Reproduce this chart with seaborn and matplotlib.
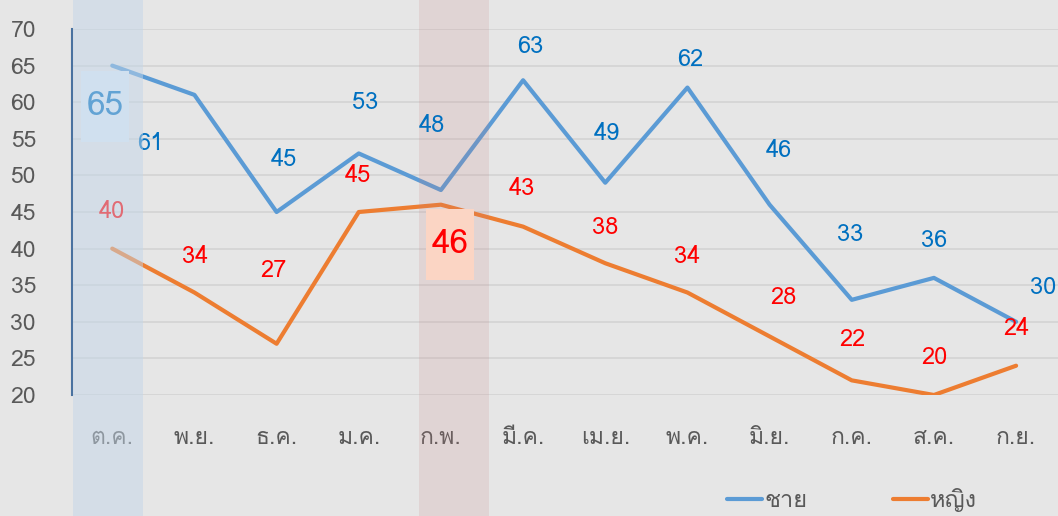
import numpy as np
import pandas as pd
import matplotlib
matplotlib.use("Agg")
import matplotlib.pyplot as plt
from matplotlib import font_manager
from matplotlib.patches import Rectangle
from matplotlib.text import Text
from matplotlib.offsetbox import DrawingArea, AnnotationBbox
import seaborn as sns

# data
months = ["ต.ค.", "พ.ย.", "ธ.ค.", "ม.ค.", "ก.พ.", "มี.ค.", "เม.ย.", "พ.ค.", "มิ.ย.", "ก.ค.", "ส.ค.", "ก.ย."]
male = [65, 61, 45, 53, 48, 63, 49, 62, 46, 33, 36, 30]
female = [40, 34, 27, 45, 46, 43, 38, 34, 28, 22, 20, 24]
series_names = ["ชาย", "หญิง"]
y_ticks = [20, 25, 30, 35, 40, 45, 50, 55, 60, 65, 70]

# label offsets in pixels (dx, dy with dy down)
male_off = [(-7, 41), (-44, 49), (7, -52), (6, -51), (-9, -65), (7, -34),
            (2, -49), (3, -28), (9, -54), (-2, -65), (0, -37), (27, -34)]
female_off = [(0, -37), (1, -36), (-3, -73), (-1, -36), (9, 40), (-1, -38),
              (0, -36), (0, -36), (14, -39), (1, -41), (0, -37), (0, -37)]
big_male = 0     # index with highlighted box
big_female = 4

BLUE = "#5b9bd5"
ORANGE = "#ed7d31"
BG = "#e6e6e6"
GRAY = "#595959"


def thai_font():
    # pick any installed font that has Thai glyphs
    from fontTools.ttLib import TTFont
    for f in font_manager.fontManager.ttflist:
        try:
            tt = TTFont(f.fname, fontNumber=0, lazy=True)
            cmap = tt.getBestCmap()
            if cmap and 0x0E15 in cmap and 0x0E0D in cmap:
                return f.name
        except Exception:
            continue
    return None


sns.set_theme(style="white")
fam = thai_font()
plt.rcParams["font.family"] = ([fam] if fam else []) + ["DejaVu Sans"]

df = pd.DataFrame({
    "month": months * 2,
    "value": male + female,
    "sex": [series_names[0]] * len(months) + [series_names[1]] * len(months),
})

fig = plt.figure(figsize=(10.58, 5.16), dpi=100, facecolor=BG)
ax = fig.add_axes([72 / 1058, 1 - 395 / 516, 1 - 72 / 1058, (395 - 29) / 516])
ax.set_facecolor(BG)

sns.lineplot(data=df, x="month", y="value", hue="sex", palette=[BLUE, ORANGE],
             linewidth=3, sort=False, legend=False, ax=ax, zorder=2)

ax.set_xlim(-0.49, 11.51)
ax.set_ylim(20, 70)
ax.set_yticks(y_ticks)
ax.set_xlabel("")
ax.set_ylabel("")
ax.yaxis.grid(True, color="#d5d5d5", linewidth=1.3)
ax.set_axisbelow(True)
for s in ["top", "right", "bottom"]:
    ax.spines[s].set_visible(False)
ax.spines["left"].set_color("#4a72a0")
ax.spines["left"].set_linewidth(1.5)
ax.tick_params(axis="y", length=0, pad=26, labelsize=16.5, labelcolor=GRAY)
ax.tick_params(axis="x", length=0, pad=24, labelsize=16.5, labelcolor=GRAY)

# highlight bands
ax.axvspan(-0.48, 0.38, ymin=-0.34, ymax=1.08, color="#c4d6e8", alpha=0.5,
           lw=0, clip_on=False, zorder=5)
ax.axvspan(3.73, 4.59, ymin=-0.34, ymax=1.08, color="#c88080", alpha=0.17,
           lw=0, clip_on=False, zorder=2.5)


def big_label(i, v, off, fc, tc):
    w, h = 48 * 0.72, 71 * 0.72
    da = DrawingArea(w, h, 0, 0)
    da.add_artist(Rectangle((0, 0), w, h, fc=fc, ec="none"))
    da.add_artist(Text(w / 2, h / 2, str(v), ha="center", va="center",
                       color=tc, fontsize=24))
    ab = AnnotationBbox(da, (i, v), xybox=(off[0], -off[1]),
                        boxcoords="offset pixels", frameon=False,
                        pad=0, box_alignment=(0.5, 0.5), zorder=4)
    ax.add_artist(ab)


for i, v in enumerate(male):
    if i == big_male:
        big_label(i, v, male_off[i], "#deebf7", "#0070c0")
        continue
    ax.annotate(str(v), (i, v), xytext=(male_off[i][0], -male_off[i][1]),
                textcoords="offset pixels", ha="center", va="center",
                color="#0070c0", fontsize=17, zorder=4)

for i, v in enumerate(female):
    if i == big_female:
        big_label(i, v, female_off[i], "#fbd5c4", "#ff0000")
        continue
    ax.annotate(str(v), (i, v), xytext=(female_off[i][0], -female_off[i][1]),
                textcoords="offset pixels", ha="center", va="center",
                color="#ff0000", fontsize=17, zorder=4)

handles = [plt.Line2D([], [], color=BLUE, lw=3, solid_capstyle="round"),
           plt.Line2D([], [], color=ORANGE, lw=3, solid_capstyle="round")]
leg = fig.legend(handles, series_names, loc="center", ncol=2,
                 bbox_to_anchor=(852 / 1058, 1 - 500 / 516), frameon=False,
                 fontsize=17, handlelength=1.5, handletextpad=0.1,
                 columnspacing=3.6, labelcolor=GRAY)

fig.savefig("out.png", dpi=100, facecolor=BG)
